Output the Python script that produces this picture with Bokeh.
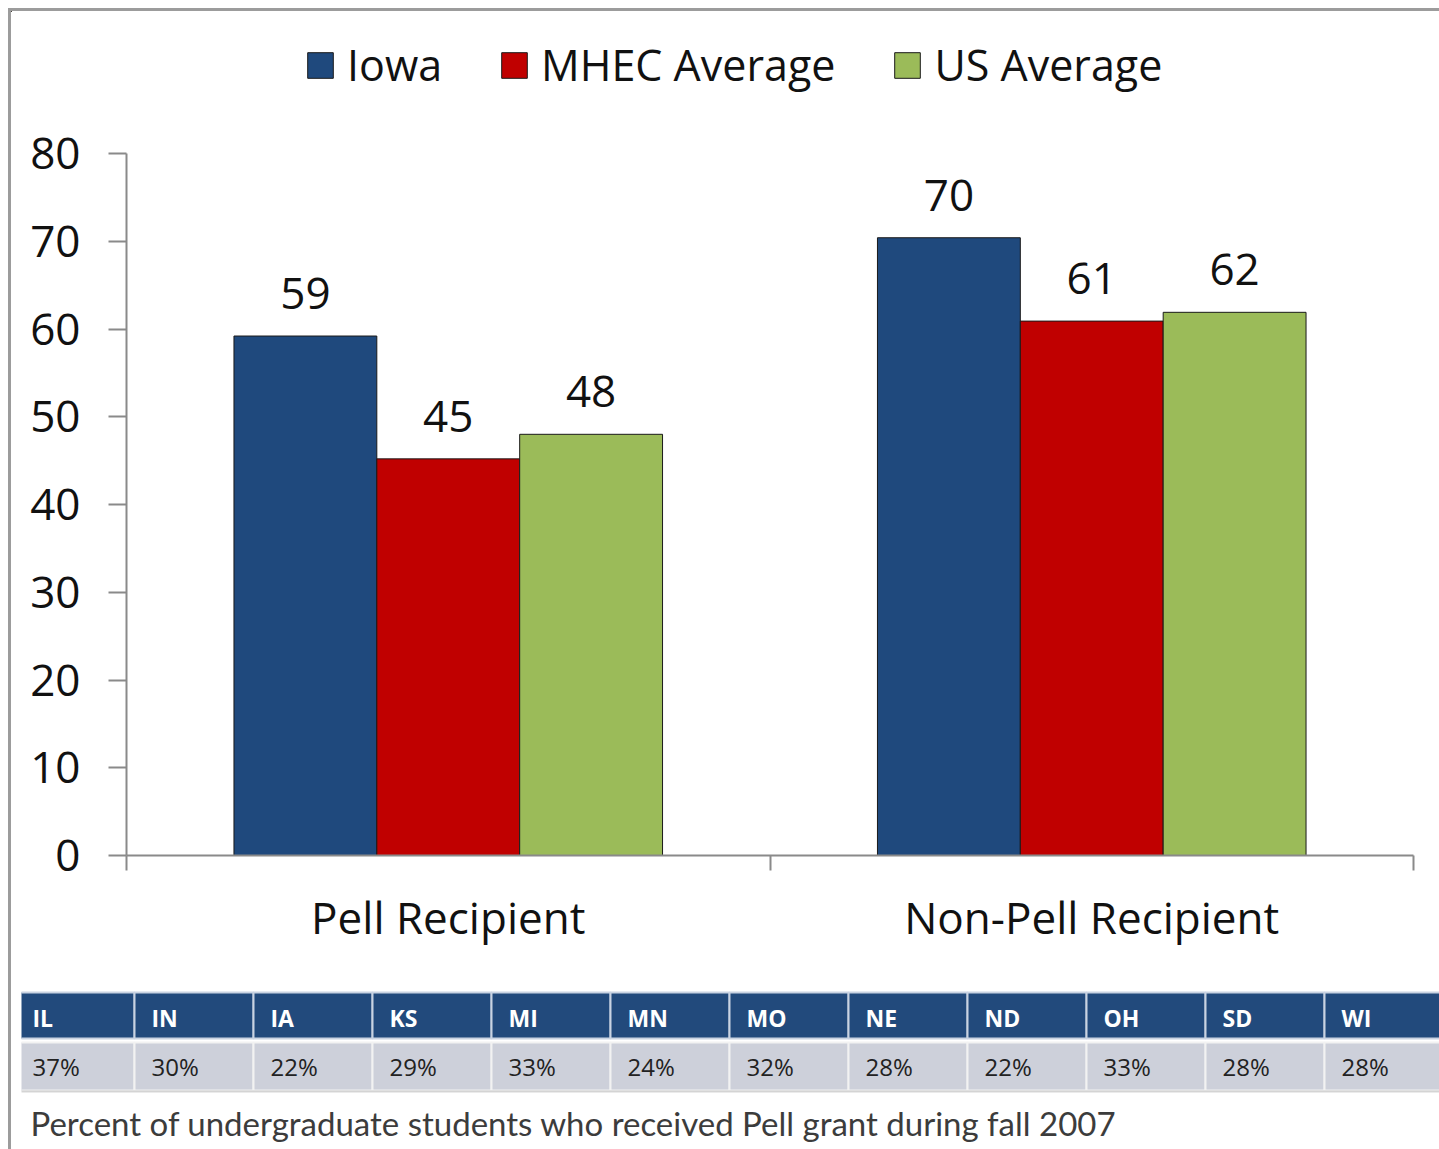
from bokeh.plotting import figure
from bokeh.models import (ColumnDataSource, Range1d, FixedTicker, Legend, LegendItem,
                          LabelSet, Label)
from bokeh.layouts import column
from bokeh.embed import file_html
from bokeh.resources import INLINE
from bokeh.core.properties import value

# ---------------- data ----------------
categories = ["Pell Recipient", "Non-Pell Recipient"]
series = ["Iowa", "MHEC Average", "US Average"]
iowa = [59.2, 70.4]
mhec = [45.2, 60.9]
us_avg = [48.0, 61.9]
series_values = [iowa, mhec, us_avg]
colors = ["#1F497D", "#C00000", "#9BBB59"]
y_ticks = [0, 10, 20, 30, 40, 50, 60, 70, 80]

states = ["IL", "IN", "IA", "KS", "MI", "MN", "MO", "NE", "ND", "OH", "SD", "WI"]
pell_share = ["37%", "30%", "22%", "29%", "33%", "24%", "32%", "28%", "22%", "33%", "28%", "28%"]
caption = "Percent of undergraduate students who received Pell grant during fall 2007"

FONT = "Open Sans"
BAR_LINE = "#1a1a1a"


def bare(fig):
    fig.frame_align = False
    fig.grid.visible = False
    fig.outline_line_color = None
    fig.background_fill_color = "white"
    fig.border_fill_color = "white"


bar_w = 0.222
offsets = [-bar_w, 0.0, bar_w]
sources = []
for j, vals in enumerate(series_values):
    sources.append(ColumnDataSource(dict(
        x=[i + 0.5 + offsets[j] for i in range(len(categories))],
        top=vals,
        label=[f"{v:.0f}" for v in vals],
    )))

# ---------------- legend strip ----------------
# same bars on ranges where they fall wholly outside the view: only their legend swatches show
p0 = figure(width=1428, height=100, x_range=Range1d(10, 11), y_range=Range1d(-200, -199),
            output_backend="svg", toolbar_location=None, x_axis_location=None, y_axis_location=None,
            min_border_left=0, min_border_right=0, min_border_top=0, min_border_bottom=0)
bare(p0)
legend_renderers = [p0.vbar(x="x", top="top", width=bar_w, source=src, fill_color=c,
                            line_color=BAR_LINE, line_width=1)
                    for src, c in zip(sources, colors)]
legend = Legend(items=[LegendItem(label=s, renderers=[r]) for s, r in zip(series, legend_renderers)],
                orientation="horizontal", location=(293, 17),
                glyph_width=32, glyph_height=32, label_standoff=11, spacing=56,
                padding=0, margin=0, border_line_color=None, background_fill_alpha=0,
                label_text_font=FONT, label_text_font_size="43px", label_text_color="#111111")
p0.add_layout(legend, "center")

# ---------------- main chart ----------------
p = figure(width=1428, height=864, x_range=Range1d(0, len(categories)), y_range=Range1d(0, 80),
           output_backend="svg", toolbar_location=None,
           min_border_left=115, min_border_right=26, min_border_top=42, min_border_bottom=120)
bare(p)

for j, src in enumerate(sources):
    p.vbar(x="x", top="top", width=bar_w, source=src, fill_color=colors[j],
           line_color=BAR_LINE, line_width=1)
    p.add_layout(LabelSet(x="x", y="top", text="label", source=src, text_align="center",
                          text_baseline="alphabetic", y_offset=27,
                          text_font=value(FONT), text_font_size="44px", text_color="#111111"))

# x axis: labels at category centers, ticks at category boundaries
p.xaxis.ticker = FixedTicker(ticks=[i + 0.5 for i in range(len(categories))],
                             minor_ticks=list(range(len(categories) + 1)))
p.xaxis.major_label_overrides = {i + 0.5: c for i, c in enumerate(categories)}
p.xaxis.major_tick_out = 0
p.xaxis.major_tick_in = 0
p.xaxis.minor_tick_out = 15
p.xaxis.minor_tick_in = 0
p.xaxis.minor_tick_line_color = "#8a8a8a"
p.xaxis.minor_tick_line_width = 2
p.xaxis.axis_line_color = "#8a8a8a"
p.xaxis.axis_line_width = 2
p.xaxis.major_label_standoff = 16
p.xaxis.major_label_text_font = FONT
p.xaxis.major_label_text_font_size = "44px"
p.xaxis.major_label_text_color = "#111111"

p.yaxis.ticker = FixedTicker(ticks=y_ticks, minor_ticks=[])
p.yaxis.major_tick_out = 18
p.yaxis.major_tick_in = 0
p.yaxis.major_tick_line_color = "#8a8a8a"
p.yaxis.major_tick_line_width = 2
p.yaxis.axis_line_color = "#8a8a8a"
p.yaxis.axis_line_width = 2
p.yaxis.major_label_standoff = 28
p.yaxis.major_label_text_font = FONT
p.yaxis.major_label_text_font_size = "44px"
p.yaxis.major_label_text_color = "#111111"

# ---------------- table + caption ----------------
n = len(states)
p2 = figure(width=1428, height=174, x_range=Range1d(6 / 119, 1424 / 119), y_range=Range1d(174, 0),
            output_backend="svg", toolbar_location=None, x_axis_location=None, y_axis_location=None,
            min_border_left=10, min_border_right=0, min_border_top=0, min_border_bottom=0)
bare(p2)

cols = list(range(n))
p2.quad(left=cols, right=[c + 1 for c in cols], top=17, bottom=63,
        fill_color="#224A7C", line_color="#c9d3e2", line_width=2)
p2.quad(left=cols, right=[c + 1 for c in cols], top=67, bottom=115,
        fill_color="#CDD0DA", line_color="#f2f2f2", line_width=2)
p2.hspan(y=[116], line_color="#b0b0b0", line_dash="1 1", line_width=2)

p2.text(x=cols, y=42, text=states, x_offset=17, text_baseline="middle", text_align="left",
        text_font=value(FONT), text_font_style="bold", text_font_size="23px", text_color="white")
p2.text(x=cols, y=91, text=pell_share, x_offset=17, text_baseline="middle", text_align="left",
        text_font=value(FONT), text_font_size="24px", text_color="#222222")

p2.add_layout(Label(x=9, x_units="screen", y=147, text=caption, text_baseline="alphabetic",
                    text_font="Lato", text_font_size="33px", text_color="#3c3c3c"))

layout = column(p0, p, p2, spacing=0,
                styles={"margin-left": "8px", "margin-top": "8px",
                        "border-top": "3px solid #9c9c9c", "border-left": "3px solid #9c9c9c"})

open("out.html", "w").write(file_html(layout, INLINE))
